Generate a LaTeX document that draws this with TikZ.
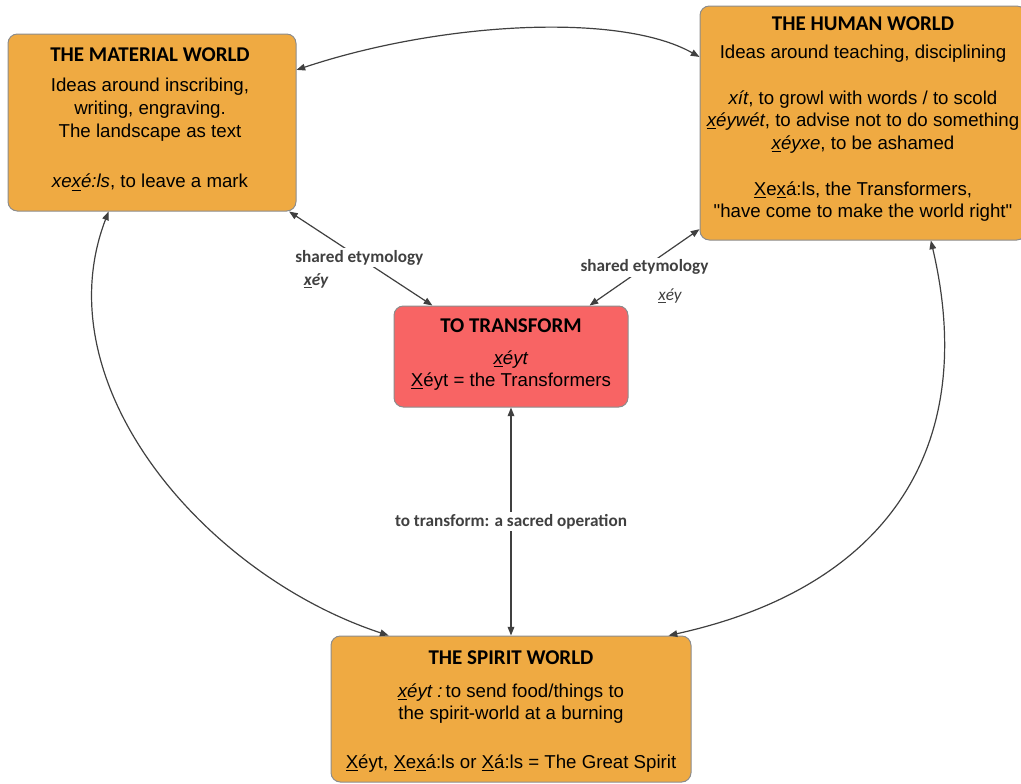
\documentclass[tikz,border=0pt]{standalone}
\usepackage{fontspec}
\setmainfont{Liberation Sans}[Ligatures=TeXOff]
\newfontfamily\carlito{Carlito}
\usetikzlibrary{arrows.meta}
\definecolor{boxorange}{HTML}{EFAA42}
\definecolor{boxred}{HTML}{F86464}
\definecolor{boxline}{HTML}{8C8C8C}
\definecolor{linkgray}{HTML}{404040}
\newcommand\ttl[1]{{\carlito\bfseries\fontsize{15.75}{16.9}\selectfont #1}}
\tikzset{
  box/.style={draw=boxline, line width=0.75pt, rounded corners=7pt, inner sep=0pt},
  orangebox/.style={box, fill=boxorange},
  redbox/.style={box, fill=boxred},
  boxtext/.style={inner sep=0pt, align=center, anchor=north, font=\fontsize{14}{16.9}\selectfont},
  link/.style={draw=linkgray, line width=0.9pt, {Triangle[length=6.5pt,width=5pt]}-{Triangle[length=6.5pt,width=5pt]}},
  linklabel/.style={font=\carlito\bfseries\fontsize{12.9}{15}\selectfont, text=linkgray, fill=white, inner sep=1.5pt},
  xeylabel/.style={font=\carlito\fontsize{12.9}{15}\selectfont, text=linkgray, inner sep=1pt}
}
\begin{document}
\begin{tikzpicture}[x=0.75pt,y=-0.75pt]
\useasboundingbox (0,0) rectangle (1021,783);
% boxes
\node[orangebox, minimum width=216pt, minimum height=132.75pt] (mat) at (152,122.5) {};
\node[orangebox, minimum width=244.5pt, minimum height=175.5pt] (hum) at (863,123) {};
\node[redbox, minimum width=175.5pt, minimum height=75.75pt] (tr) at (511,356.5) {};
\node[orangebox, minimum width=270pt, minimum height=109.5pt] (sp) at (511,709) {};
% texts
\node[boxtext] (matT) at (150,47) {\ttl{THE MATERIAL WORLD}\\[6.3pt]
  Ideas around inscribing,\\ writing, engraving.\\ The landscape as text\\[21.3pt]
  \textit{xe\underline{x}é:ls}, to leave a mark};
\node[boxtext] (humT) at (863,16) {\ttl{THE HUMAN WORLD}\\[4.1pt]
  Ideas around teaching, disciplining\\[17.6pt]
  \textit{xít}, to growl with words / to scold\\
  \textit{\underline{x}éywét}, to advise not to do something\\
  \textit{\underline{x}éyxe}, to be ashamed\\[17.6pt]
  \underline{X}e\underline{x}á:ls, the Transformers,\\
  "have come to make the world right"};
\node[boxtext] (trT) at (511,318) {\ttl{TO TRANSFORM}\\[7.1pt]
  \textit{\underline{x}éyt}\\ \underline{X}éyt = the Transformers};
\node[boxtext] (spT) at (511,650) {\ttl{THE SPIRIT WORLD}\\[7.85pt]
  \textit{\underline{x}éyt :}\,to send food/things to\\ the spirit-world at a burning\\[19.85pt]
  \underline{X}éyt, \underline{X}e\underline{x}á:ls or \underline{X}á:ls = The Great Spirit};
% connectors
\draw[link] (hum.158.3) .. controls (620,12) and (440,22) .. (mat.20);
\draw[link] (mat.-33) -- node[linklabel, pos=0.49] (lab1) {shared etymology} (tr.147.4);
\node[xeylabel, font=\carlito\bfseries\itshape\fontsize{12.9}{15}\selectfont] (lab1x) at (316,281) {\underline{x}éy};
\draw[link] (hum.213.8) -- node[linklabel, midway] (lab2) {shared etymology} (tr.33.3);
\node[xeylabel, font=\carlito\itshape\fontsize{12.9}{15}\selectfont] (lab2x) at (670,296) {\underline{x}éy};
\draw[link] (tr.south) -- node[linklabel, midway] (lab3) {to transform: a sacred operation} (sp.north);
\draw[link] (mat.-116.4) .. controls (42,385) and (205,575) .. (sp.149.3);
\draw[link] (hum.-60.9) .. controls (980,450) and (885,588) .. (sp.25.4);
\end{tikzpicture}
\end{document}
